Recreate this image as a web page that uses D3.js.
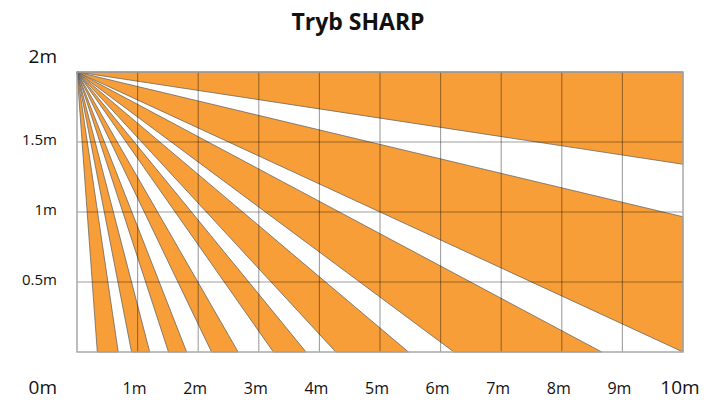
<!DOCTYPE html>
<html>
<head>
<meta charset="utf-8">
<script src="https://cdn.jsdelivr.net/npm/d3@7"></script>
<style>
  body { margin: 0; background: #fff; }
  text { font-family: "Open Sans", sans-serif; fill: #111; }
</style>
</head>
<body>
<div id="chart"></div>
<script>

// detection zones, far edge points in metres [x, y]; the sensor sits at the top left
var sensor = [0, 2];
var zoneStart = [[10, 2], [10, 0.966], [8.66, 0], [5.47, 0], [3.78, 0], [2.66, 0], [1.81, 0], [1.20, 0], [0.68, 0]];
var zoneEnd = [[10, 1.341], [10, 0], [6.22, 0], [4.27, 0], [3.24, 0], [2.22, 0], [1.51, 0], [0.90, 0], [0.335, 0]];

var xTicks = [1, 2, 3, 4, 5, 6, 7, 8, 9, 10];
var xLabels = ["1m", "2m", "3m", "4m", "5m", "6m", "7m", "8m", "9m", "10m"];
var yTicks = [0, 0.5, 1, 1.5, 2];
var yLabels = ["0m", "0.5m", "1m", "1.5m", "2m"];
var title = "Tryb SHARP";

var width = 704, height = 400;

var svg = d3.select("#chart").append("svg")
  .attr("width", width)
  .attr("height", height);

var x = d3.scaleLinear().domain([0, 10]).range([77, 683]);
var y = d3.scaleLinear().domain([0, 2]).range([352, 72]);

// orange wedges
svg.append("g")
  .selectAll("path")
  .data(zoneStart)
  .join("path")
  .attr("d", function(d, i) {
    var e = zoneEnd[i];
    return "M" + x(sensor[0]) + "," + y(sensor[1]) +
      "L" + x(d[0]) + "," + y(d[1]) +
      "L" + x(e[0]) + "," + y(e[1]) + "Z";
  })
  .attr("fill", "#F79E38")
  .attr("stroke", "#5a5a5a")
  .attr("stroke-width", 0.7)
  .attr("stroke-linejoin", "round");

// grid
var grid = svg.append("g")
  .attr("stroke", "#000")
  .attr("stroke-opacity", 0.38)
  .attr("stroke-width", 1.1);

grid.selectAll("line.v")
  .data(xTicks.slice(0, -1))
  .join("line")
  .attr("class", "v")
  .attr("x1", d => x(d)).attr("x2", d => x(d))
  .attr("y1", y(0)).attr("y2", y(2));

grid.selectAll("line.h")
  .data(yTicks.slice(1))
  .join("line")
  .attr("class", "h")
  .attr("x1", x(0)).attr("x2", x(10))
  .attr("y1", d => y(d)).attr("y2", d => y(d));

// frame
svg.append("rect")
  .attr("x", x(0)).attr("y", y(2))
  .attr("width", x(10) - x(0))
  .attr("height", y(0) - y(2))
  .attr("fill", "none")
  .attr("stroke", "#a8a8a8")
  .attr("stroke-width", 1.5);

// x labels
svg.append("g")
  .selectAll("text")
  .data(xTicks)
  .join("text")
  .attr("x", d => x(d) - 3)
  .attr("y", 394)
  .attr("text-anchor", "middle")
  .style("font-size", d => d === 10 ? "19px" : "16px")
  .text((d, i) => xLabels[i]);

// y labels (0m drops down to the x label row, 2m sits above the frame)
svg.append("g")
  .selectAll("text")
  .data(yTicks)
  .join("text")
  .attr("x", 57)
  .attr("y", function(d) {
    if (d === 0) return 394;
    if (d === 2) return y(d) - 9;
    return y(d) + 3;
  })
  .attr("text-anchor", "end")
  .style("font-size", d => (d === 0 || d === 2) ? "19px" : "15px")
  .text((d, i) => yLabels[i]);

svg.append("text")
  .attr("x", 358)
  .attr("y", 30)
  .attr("text-anchor", "middle")
  .style("font-size", "23px")
  .style("font-weight", "bold")
  .text(title);

</script>
</body>
</html>
